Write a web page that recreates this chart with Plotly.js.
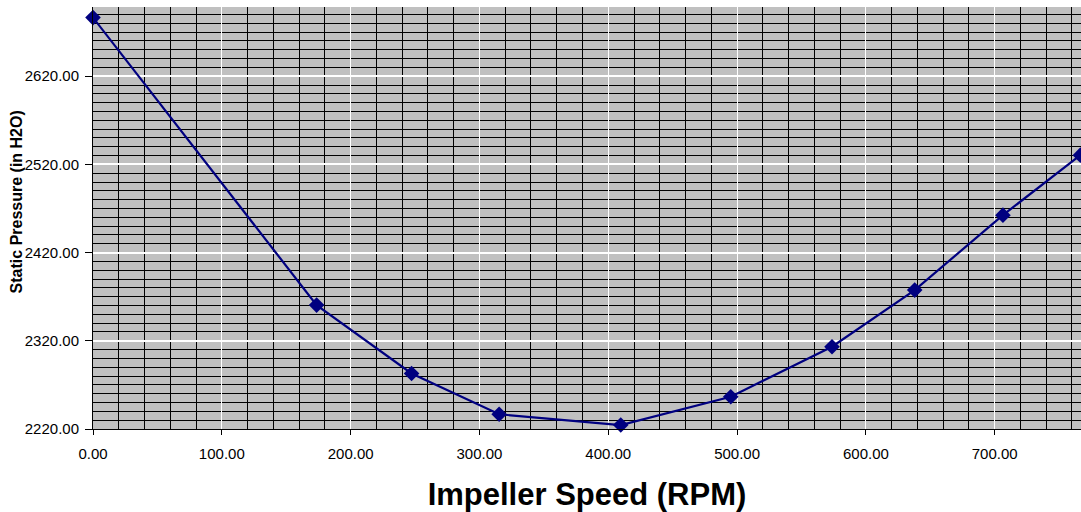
<!DOCTYPE html>
<html>
<head>
<meta charset="utf-8">
<script src="https://cdn.plot.ly/plotly-3.0.1.min.js"></script>
<style>html,body{margin:0;padding:0;background:#fff;}#chart{width:1081px;height:512px;}</style>
</head>
<body>
<div id="chart"></div>
<script>
const speedRPM = [0, 173.6, 247.3, 315.3, 409.7, 495.1, 573.7, 637.9, 706.4, 766.5];
const staticPressure = [2686.5, 2360.5, 2283, 2236.7, 2224.5, 2256.6, 2313.3, 2377.5, 2462.5, 2530.5];
const xTitle = 'Impeller Speed (RPM)';
const yTitle = 'Static Pressure (in H2O)';

const trace = {
  x: speedRPM,
  y: staticPressure,
  type: 'scatter',
  mode: 'lines+markers',
  line: {color: '#000080', width: 2.2},
  marker: {symbol: 'diamond', size: 12, color: '#000080'},
  cliponaxis: false,
  hoverinfo: 'x+y'
};

const layout = {
  width: 1081,
  height: 512,
  margin: {l: 93, r: 0, t: 7, b: 83, pad: 0},
  paper_bgcolor: '#ffffff',
  plot_bgcolor: '#c0c0c0',
  showlegend: false,
  font: {family: 'Liberation Sans, Arial, sans-serif', color: '#000'},
  xaxis: {
    range: [0, 767],
    tick0: 0,
    dtick: 100,
    tickformat: '.2f',
    ticks: 'outside',
    ticklen: 5,
    tickcolor: '#000',
    tickfont: {size: 15, color: '#000'},
    ticklabelstandoff: 6,
    showline: true,
    linecolor: '#000',
    linewidth: 1,
    showgrid: true,
    gridcolor: '#ffffff',
    gridwidth: 1,
    zeroline: false,
    minor: {dtick: 20, showgrid: true, gridcolor: '#000000', gridwidth: 1, ticks: ''},
    title: {text: xTitle, font: {size: 31, color: '#000', family: 'Liberation Sans, Arial, sans-serif', weight: 'bold'}, standoff: 22}
  },
  yaxis: {
    range: [2220, 2698.5],
    tick0: 2220,
    dtick: 100,
    tickformat: '.2f',
    ticks: 'outside',
    ticklen: 7,
    tickcolor: '#000',
    tickfont: {size: 15, color: '#000'},
    ticklabelstandoff: 3,
    showline: true,
    linecolor: '#000',
    linewidth: 1,
    showgrid: true,
    gridcolor: '#ffffff',
    gridwidth: 2,
    zeroline: false,
    minor: {dtick: 10, showgrid: true, gridcolor: '#000000', gridwidth: 1, ticks: ''}
  },
  annotations: [{
    text: yTitle,
    textangle: -90,
    xref: 'paper', yref: 'paper',
    x: 0, y: 0.537,
    xanchor: 'center', yanchor: 'middle',
    xshift: -77,
    showarrow: false,
    font: {size: 16, color: '#000', family: 'Liberation Sans, Arial, sans-serif', weight: 'bold'}
  }]
};

Plotly.newPlot('chart', [trace], layout, {displayModeBar: false, staticPlot: true});
</script>
</body>
</html>
